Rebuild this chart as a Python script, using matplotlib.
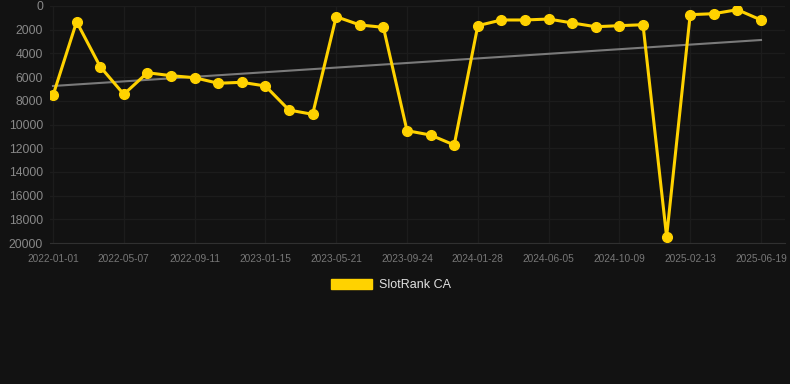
import matplotlib.pyplot as plt
import numpy as np

# rank values, one point per period (lower rank number = better, axis inverted)
rank_values = [7550, 1330, 5120, 7450, 5630, 5880, 6050, 6520, 6440, 6750,
               8780, 9140, 900, 1600, 1800, 10520, 10890, 11730, 1660, 1180,
               1180, 1100, 1430, 1750, 1660, 1580, 19470, 730, 650, 310, 1180]
tick_labels = ['2022-01-01', '2022-05-07', '2022-09-11', '2023-01-15',
               '2023-05-21', '2023-09-24', '2024-01-28', '2024-06-05',
               '2024-10-09', '2025-02-13', '2025-06-19']
trend_values = [6750, 2870]  # start / end of the trend line
y_ticks = [0, 2000, 4000, 6000, 8000, 10000, 12000, 14000, 16000, 18000, 20000]

plt.rcParams['font.family'] = ['Liberation Sans', 'DejaVu Sans']

bg = '#121212'
yellow = '#FFD200'

fig = plt.figure(figsize=(7.9, 3.84), dpi=100, facecolor=bg)
W, H = 790, 384
ax = fig.add_axes([50 / W, 1 - 243 / H, (785 - 50) / W, (243 - 6) / H])
ax.set_facecolor(bg)

x = np.arange(len(rank_values))
ax.plot([x[0], x[-1]], trend_values, color='#7a7a7a', lw=1.5, zorder=2)
ax.plot(x, rank_values, color=yellow, lw=2.2, marker='o', ms=7,
        solid_joinstyle='miter', zorder=3, label='SlotRank CA')

# pixel mapping: index 0 at x=53, index 30 at x=761
px_per = (761 - 53) / 30
ax.set_xlim(-(53 - 50) / px_per, 30 + (785 - 761) / px_per)
ax.set_ylim(20000, 0)

ax.set_xticks(x[::3])
ax.set_xticklabels(tick_labels)
ax.set_yticks(y_ticks)

ax.grid(True, color='#1c1c1c', lw=1)
for s in ['top', 'right', 'left']:
    ax.spines[s].set_visible(False)
ax.spines['bottom'].set_color('#303030')
ax.tick_params(axis='x', colors='#777777', labelsize=7.3, length=0, pad=8)
ax.tick_params(axis='y', colors='#888888', labelsize=8.7, length=0, pad=5)

fig.legend(handles=[plt.Rectangle((0, 0), 1, 1, color=yellow)],
           labels=['SlotRank CA'], loc='center', bbox_to_anchor=(391 / W, 1 - 285 / H),
           frameon=False, fontsize=9, labelcolor='#e0e0e0',
           handlelength=3.3, handleheight=0.95, handletextpad=0.55)

fig.savefig('out.png', dpi=100, facecolor=bg)
